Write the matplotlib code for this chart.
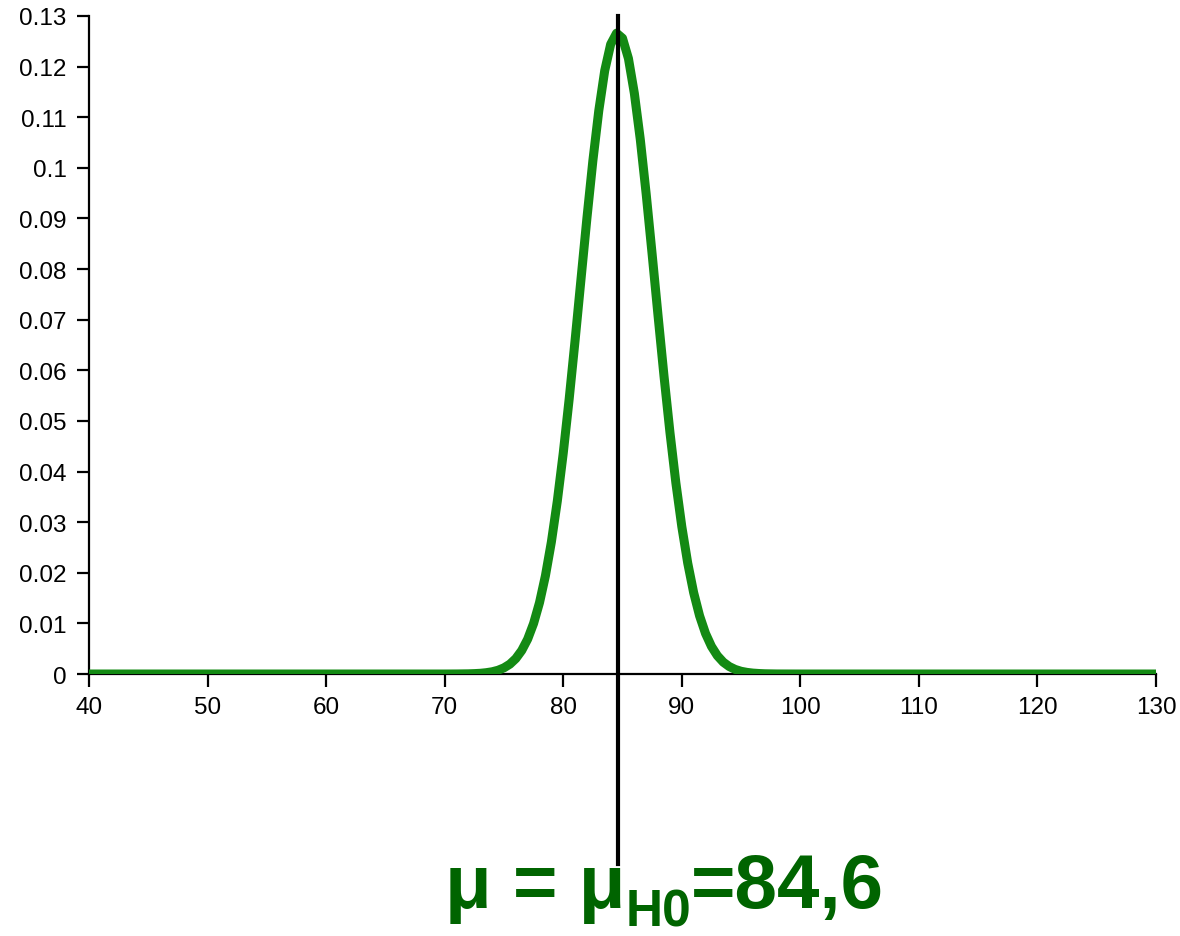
import matplotlib
matplotlib.use("Agg")
import matplotlib.pyplot as plt
from matplotlib.ticker import FuncFormatter
from matplotlib.transforms import offset_copy

plt.rcParams["font.family"] = ["Liberation Sans", "DejaVu Sans"]

# density curve (mean 84.6)
x_vals = [40, 50, 60, 70, 71, 72, 72.5, 73, 73.5, 74, 74.5, 75, 75.5, 76, 76.5,
          77, 77.5, 78, 78.5, 79, 79.5, 80, 80.5, 81, 81.5, 82, 82.5, 83, 83.5,
          84, 84.5, 85, 85.5, 86, 86.5, 87, 87.5, 88, 88.5, 89, 89.5, 90, 90.5,
          91, 91.5, 92, 92.5, 93, 93.5, 94, 94.5, 95, 95.5, 96, 96.5, 97, 98,
          100, 110, 120, 130]
y_vals = [0, 0, 0, 0, 0.00001, 0.00004, 0.00008, 0.00014, 0.00026, 0.00044,
          0.00074, 0.00122, 0.00195, 0.00305, 0.00465, 0.00689, 0.00999, 0.01411,
          0.01943, 0.02608, 0.03414, 0.04361, 0.05430, 0.06591, 0.07803, 0.09009,
          0.1014, 0.1113, 0.1192, 0.1244, 0.1266, 0.1256, 0.1216, 0.1147, 0.1056,
          0.09475, 0.08290, 0.07073, 0.05885, 0.04775, 0.03777, 0.02914, 0.02192,
          0.01608, 0.01150, 0.00802, 0.00546, 0.00362, 0.00234, 0.00148, 0.00091,
          0.00054, 0.00032, 0.00018, 0.00010, 0.00005, 0.00001, 0, 0, 0, 0]
mu_h0 = 84.6
x_ticks = [40, 50, 60, 70, 80, 90, 100, 110, 120, 130]
y_ticks = [0, 0.01, 0.02, 0.03, 0.04, 0.05, 0.06, 0.07, 0.08, 0.09, 0.1,
           0.11, 0.12, 0.13]

fig = plt.figure(figsize=(11.8, 9.37), dpi=100)
ax = fig.add_axes([0.0754, 0.2796, 0.9043, 0.7023])

ax.plot(x_vals, y_vals, color="#138a13", linewidth=6.5, solid_capstyle="butt",
        zorder=3)
ax.plot([mu_h0, mu_h0], [-0.0376, 0.13], color="black", linewidth=3,
        clip_on=False, zorder=4)

ax.set_xlim(40, 130)
ax.set_ylim(0, 0.13)
ax.set_xticks(x_ticks)
ax.set_yticks(y_ticks)
ax.yaxis.set_major_formatter(FuncFormatter(lambda v, p: f"{v:g}"))
for side in ["top", "right"]:
    ax.spines[side].set_visible(False)
for side in ["left", "bottom"]:
    ax.spines[side].set_linewidth(1.6)
ax.tick_params(direction="out", length=9, width=1.6, labelsize=17.5, pad=7)

# label built from pieces so the subscript sits low like the original
green = "#006400"
renderer = fig.canvas.get_renderer()
t1 = fig.text(445 / 1180, 29 / 937, "μ = μ", color=green, fontsize=55,
              fontweight="bold", ha="left", va="baseline")
w1 = t1.get_window_extent(renderer).width
t2 = fig.text(445 / 1180, 29 / 937, "H0", color=green, fontsize=37,
              fontweight="bold", ha="left", va="baseline",
              transform=offset_copy(fig.transFigure, fig=fig, x=w1, y=-19, units="dots"))
w2 = t2.get_window_extent(renderer).width
fig.text(445 / 1180, 29 / 937, "=84,6", color=green, fontsize=55,
         fontweight="bold", ha="left", va="baseline",
         transform=offset_copy(fig.transFigure, fig=fig, x=w1 + w2, y=0, units="dots"))

fig.savefig("out.png", dpi=100)
